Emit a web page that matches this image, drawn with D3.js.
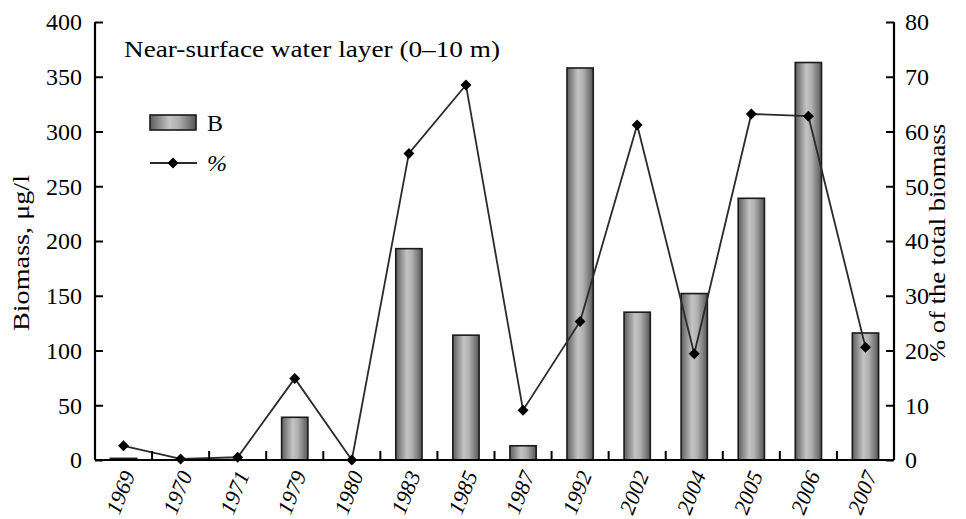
<!DOCTYPE html>
<html><head><meta charset="utf-8">
<script src="https://cdn.jsdelivr.net/npm/d3@7"></script>
<style>body{margin:0;background:#fff}svg{display:block}text{font-family:"Liberation Serif","Times New Roman",serif;fill:#000}</style>
</head><body><svg id="c" width="966" height="519"></svg>
<script>
const years = ["1969","1970","1971","1979","1980","1983","1985","1987","1992","2002","2004","2005","2006","2007"];
const biomass = [1.5, 0, 0, 39, 0, 193, 114, 13, 358, 135, 152, 239, 363, 116];
const percent = [2.6, 0.2, 0.5, 14.9, 0, 56, 68.5, 9.1, 25.3, 61.2, 19.4, 63.2, 62.8, 20.6];
const leftTicks = [0,50,100,150,200,250,300,350,400];
const rightTicks = [0,10,20,30,40,50,60,70,80];

const svg = d3.select("#c");
const L = 95, R = 894, T = 22, B = 460;
const x = d3.scaleBand().domain(years).range([L, R]).padding(0);
const yL = d3.scaleLinear().domain([0, 400]).range([B, T]);
const yR = d3.scaleLinear().domain([0, 80]).range([B, T]);
const bw = x.bandwidth() * 0.46;

const defs = svg.append("defs");
const g = defs.append("linearGradient").attr("id","bg").attr("x1","0").attr("x2","1").attr("y1","0").attr("y2","0");
[[0,"#5e5e5e"],[0.18,"#8a8a8a"],[0.42,"#c4c4c4"],[0.62,"#b0b0b0"],[0.85,"#7a7a7a"],[1,"#555"]].forEach(s=>g.append("stop").attr("offset",s[0]).attr("stop-color",s[1]));

// bars
svg.append("g").selectAll("rect").data(years.map((y,i)=>({y,v:biomass[i]})).filter(d=>d.v>0)).join("rect")
  .attr("x", d => x(d.y) + x.bandwidth()/2 - bw/2)
  .attr("y", d => yL(d.v))
  .attr("width", bw)
  .attr("height", d => B - yL(d.v))
  .attr("fill","url(#bg)").attr("stroke","#1a1a1a").attr("stroke-width",1.6);

// line
const line = d3.line().x((d,i)=>x(years[i]) + x.bandwidth()/2).y(d=>yR(d));
svg.append("path").datum(percent).attr("d", line).attr("fill","none").attr("stroke","#2a2a2a").attr("stroke-width",1.8);
svg.append("g").selectAll("path").data(percent).join("path")
  .attr("transform",(d,i)=>`translate(${x(years[i]) + x.bandwidth()/2},${yR(d)}) rotate(45)`)
  .attr("d", d3.symbol().type(d3.symbolSquare).size(60)).attr("fill","#000");

// axes
const axL = svg.append("g").attr("transform",`translate(${L},0)`).call(d3.axisRight(yL).tickValues(leftTicks).tickSize(8).tickFormat(d3.format("d")));
axL.selectAll("text").attr("x",-13).attr("text-anchor","end").attr("font-size",24).attr("dy","0.33em");
const axR = svg.append("g").attr("transform",`translate(${R},0)`).call(d3.axisLeft(yR).tickValues(rightTicks).tickSize(8).tickFormat(d3.format("d")));
axR.selectAll("text").attr("x",11).attr("text-anchor","start").attr("font-size",24).attr("dy","0.33em");
const axB = svg.append("g").attr("transform",`translate(0,${B})`).call(d3.axisBottom(x).tickSize(0).tickFormat(d=>d));
axB.selectAll("text").attr("font-size",22).attr("font-style","italic").attr("text-anchor","end")
  .attr("transform","translate(5,12) rotate(-68)").attr("x",0).attr("y",0).attr("dy","0.35em");
// x ticks between categories
svg.append("g").selectAll("line").data(years.slice(1)).join("line")
  .attr("x1",d=>x(d)).attr("x2",d=>x(d)).attr("y1",B).attr("y2",B-9).attr("stroke","#000").attr("stroke-width",2);
[axL,axR,axB].forEach(a=>{a.select(".domain").attr("stroke","#000").attr("stroke-width",2.2);a.selectAll(".tick line").attr("stroke","#000").attr("stroke-width",2);a.attr("font-family",null);});
axB.select(".domain").attr("d",`M${L},0H${R}`);
axL.select(".domain").attr("d",`M0,${B}V${T}`);
axR.select(".domain").attr("d",`M0,${B}V${T}`);

// axis titles
svg.append("text").attr("transform",`translate(29,253) rotate(-90)`).attr("text-anchor","middle").attr("font-size",23)
  .attr("textLength",156).attr("lengthAdjust","spacingAndGlyphs").text("Biomass, μg/l");
svg.append("text").attr("transform",`translate(945,243) rotate(-90)`).attr("text-anchor","middle").attr("font-size",23)
  .attr("textLength",238).attr("lengthAdjust","spacingAndGlyphs").text("% of the total biomass");

// title
svg.append("text").attr("x",124).attr("y",57).attr("font-size",24)
  .attr("textLength",376).attr("lengthAdjust","spacingAndGlyphs").text("Near-surface water layer (0–10 m)");

// legend
svg.append("rect").attr("x",150).attr("y",115).attr("width",46).attr("height",15).attr("fill","url(#bg)").attr("stroke","#1a1a1a").attr("stroke-width",1.6);
svg.append("text").attr("x",207).attr("y",131).attr("font-size",24).text("B");
svg.append("line").attr("x1",150).attr("x2",197).attr("y1",163).attr("y2",163).attr("stroke","#2a2a2a").attr("stroke-width",1.8);
svg.append("path").attr("transform","translate(173,163) rotate(45)").attr("d",d3.symbol().type(d3.symbolSquare).size(60)).attr("fill","#000");
svg.append("text").attr("x",207).attr("y",171).attr("font-size",24).attr("font-style","italic").text("%");
</script></body></html>
